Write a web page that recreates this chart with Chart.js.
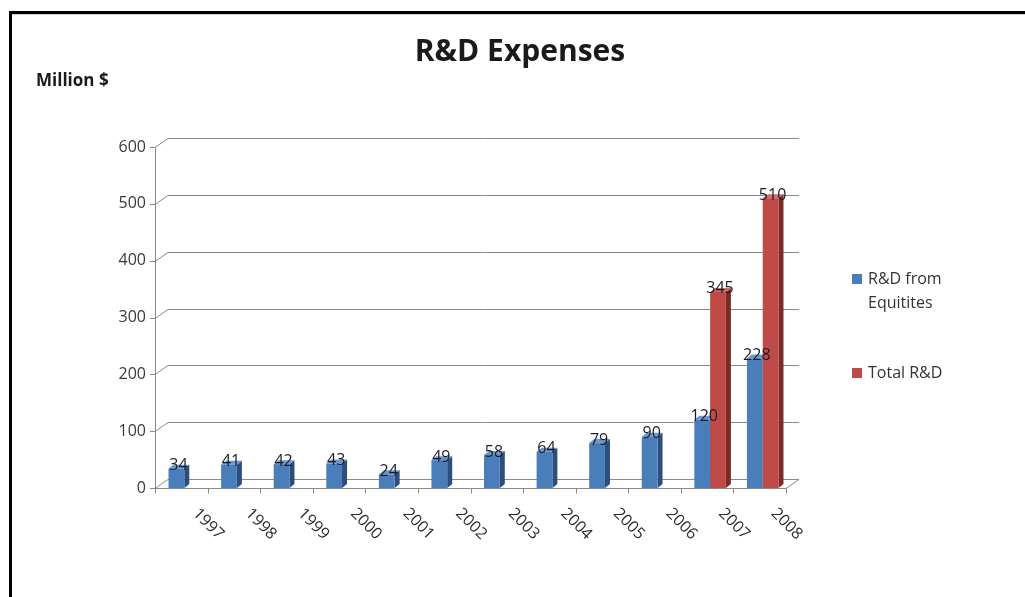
<!DOCTYPE html>
<html>
<head>
<meta charset="utf-8">
<title>R&amp;D Expenses</title>
<script src="https://cdn.jsdelivr.net/npm/chart.js@4"></script>
<style>
    html, body { margin: 0; padding: 0; background: #fff; }
    canvas { display: block; }
</style>
</head>
<body>
<canvas id="rdChart" width="1025" height="597"></canvas>
<script>
const years = ['1997', '1998', '1999', '2000', '2001', '2002', '2003', '2004', '2005', '2006', '2007', '2008'];
const equitySpend = [34, 41, 42, 43, 24, 49, 58, 64, 79, 90, 120, 228];
const totalSpend = [null, null, null, null, null, null, null, null, null, null, 345, 510];
const yTicks = [0, 100, 200, 300, 400, 500, 600];
const seriesNames = ['R&D from Equitites', 'Total R&D'];

const FONT = '"Open Sans", "Liberation Sans", sans-serif';
const faceColors = [
    { front: '#4a7ebb', side: '#2b4e7c', top: '#6b97cc' },
    { front: '#be4b48', side: '#7c2a28', top: '#d06a67' },
];
// back wall offset for the fake 3D depth
const wallDx = 13;
const wallDy = -9;
const barDx = 5;
const barDy = -4;
// columns stand a little behind the front floor edge
const depthShift = 3;

const frame3d = {
    id: 'frame3d',
    beforeDraw(chart) {
        const ctx = chart.ctx;
        ctx.save();
        ctx.fillStyle = '#fff';
        ctx.fillRect(0, 0, chart.width, chart.height);
        ctx.fillStyle = '#000';
        ctx.fillRect(9, 11, chart.width - 9, 3);
        ctx.fillRect(9, 11, 3, chart.height - 11);
        ctx.fillStyle = '#d0d0d0';
        ctx.fillRect(12, 14, chart.width - 12, 1);

        // title and unit label
        ctx.fillStyle = '#1a1a1a';
        ctx.textAlign = 'center';
        ctx.textBaseline = 'middle';
        ctx.font = 'bold 30px ' + FONT;
        ctx.fillText('R&D Expenses', 520, 52);
        ctx.textAlign = 'left';
        ctx.font = 'bold 17px ' + FONT;
        ctx.fillText('Million $', 36, 81);
        ctx.restore();
    },
    beforeDatasetsDraw(chart) {
        const ctx = chart.ctx;
        const { x, y } = chart.scales;
        const left = chart.chartArea.left - depthShift;
        const right = chart.chartArea.right - depthShift;
        const bottom = y.getPixelForValue(0);

        ctx.save();
        ctx.lineWidth = 1;
        ctx.strokeStyle = '#8a8a8a';

        // back wall gridlines with the diagonal link to the front axis
        yTicks.forEach((v) => {
            const py = Math.round(y.getPixelForValue(v)) + 0.5;
            ctx.beginPath();
            ctx.moveTo(left - 5, py);
            ctx.lineTo(left, py);
            ctx.lineTo(left + wallDx, py + wallDy);
            ctx.lineTo(right + wallDx, py + wallDy);
            ctx.stroke();
        });

        // front value axis
        ctx.beginPath();
        ctx.moveTo(left + 0.5, Math.round(y.getPixelForValue(600)));
        ctx.lineTo(left + 0.5, Math.round(bottom) + 0.5);
        ctx.stroke();

        // floor front edge with category ticks
        const by = Math.round(bottom) + 0.5;
        ctx.beginPath();
        ctx.moveTo(left, by);
        ctx.lineTo(right, by);
        ctx.lineTo(right + wallDx, by + wallDy);
        ctx.stroke();
        const step = (right - left) / years.length;
        for (let i = 0; i <= years.length; i += 1) {
            const px = Math.round(left + i * step) + 0.5;
            ctx.beginPath();
            ctx.moveTo(px, by);
            ctx.lineTo(px, by + 5);
            ctx.stroke();
        }

        // value tick labels
        ctx.fillStyle = '#3a3a3a';
        ctx.font = '16px ' + FONT;
        ctx.textAlign = 'right';
        ctx.textBaseline = 'middle';
        yTicks.forEach((v) => {
            ctx.fillText(String(v), left - 9, y.getPixelForValue(v));
        });

        // rotated category labels
        ctx.fillStyle = '#2a2a2a';
        ctx.textAlign = 'center';
        years.forEach((label, i) => {
            const cx = x.getPixelForValue(i) - depthShift;
            ctx.save();
            ctx.translate(cx + 27, bottom + 36);
            ctx.rotate(Math.PI / 4);
            ctx.fillText(label, 0, 0);
            ctx.restore();
        });

        // side and top faces of the columns, behind the front faces
        chart.data.datasets.forEach((ds, di) => {
            const meta = chart.getDatasetMeta(di);
            const colors = faceColors[di];
            meta.data.forEach((bar, i) => {
                if (ds.data[i] === null) {
                    return;
                }
                const p = bar.getProps(['x', 'y', 'base', 'width'], true);
                const l = p.x - p.width / 2;
                const r = p.x + p.width / 2;
                ctx.fillStyle = colors.side;
                ctx.beginPath();
                ctx.moveTo(r, p.y);
                ctx.lineTo(r + barDx, p.y + barDy);
                ctx.lineTo(r + barDx, p.base + barDy);
                ctx.lineTo(r, p.base);
                ctx.closePath();
                ctx.fill();
                ctx.fillStyle = colors.top;
                ctx.beginPath();
                ctx.moveTo(l, p.y);
                ctx.lineTo(l + barDx, p.y + barDy);
                ctx.lineTo(r + barDx, p.y + barDy);
                ctx.lineTo(r, p.y);
                ctx.closePath();
                ctx.fill();
            });
        });
        ctx.restore();
    },
    afterDatasetsDraw(chart) {
        const ctx = chart.ctx;
        ctx.save();
        ctx.font = '16px ' + FONT;
        ctx.fillStyle = '#1c1c28';
        ctx.textAlign = 'center';
        ctx.textBaseline = 'middle';
        chart.data.datasets.forEach((ds, di) => {
            const meta = chart.getDatasetMeta(di);
            meta.data.forEach((bar, i) => {
                if (ds.data[i] === null) {
                    return;
                }
                ctx.fillText(String(ds.data[i]), bar.x + 2, bar.y - 3);
            });
        });

        // legend on the right
        const legendY = [279, 373];
        ctx.font = '16px ' + FONT;
        ctx.textAlign = 'left';
        chart.data.datasets.forEach((ds, di) => {
            const top = legendY[di];
            ctx.fillStyle = ds.backgroundColor;
            ctx.fillRect(852, top - 5, 10, 10);
            ctx.fillStyle = '#333';
            const words = ds.label.split(' ');
            const lines = [];
            let line = '';
            words.forEach((w) => {
                const test = line ? line + ' ' + w : w;
                if (line && ctx.measureText(test).width > 90) {
                    lines.push(line);
                    line = w;
                } else {
                    line = test;
                }
            });
            lines.push(line);
            lines.forEach((t, li) => {
                ctx.fillText(t, 868, top + li * 24);
            });
        });
        ctx.restore();
    },
};

new Chart(document.getElementById('rdChart'), {
    type: 'bar',
    data: {
        labels: years,
        datasets: [
            {
                label: seriesNames[0],
                data: equitySpend,
                backgroundColor: faceColors[0].front,
                borderWidth: 0,
            },
            {
                label: seriesNames[1],
                data: totalSpend,
                backgroundColor: faceColors[1].front,
                borderWidth: 0,
            },
        ],
    },
    options: {
        responsive: false,
        animation: false,
        devicePixelRatio: 1,
        categoryPercentage: 0.6,
        barPercentage: 1,
        layout: {
            padding: { left: 155 + depthShift, right: 239 - depthShift, top: 147, bottom: 109 },
        },
        plugins: {
            legend: { display: false },
            title: { display: false },
            tooltip: { enabled: false },
        },
        scales: {
            x: {
                display: false,
            },
            y: {
                display: false,
                min: 0,
                max: 600,
            },
        },
    },
    plugins: [frame3d],
});
</script>
</body>
</html>
